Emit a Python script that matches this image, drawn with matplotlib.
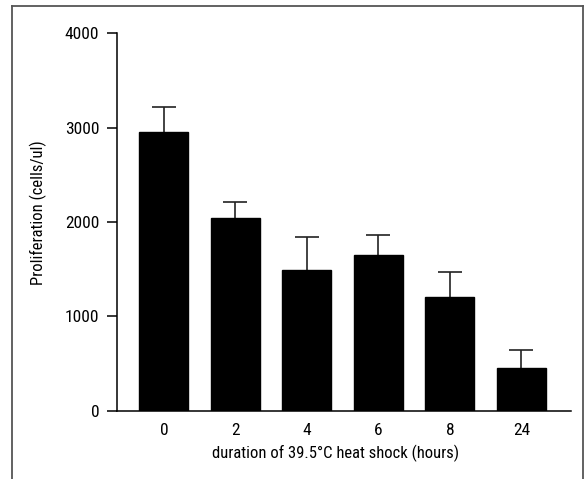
import matplotlib
matplotlib.use("Agg")
import matplotlib.pyplot as plt
from matplotlib.lines import Line2D
from matplotlib import font_manager

categories = ["0", "2", "4", "6", "8", "24"]
means = [2950, 2045, 1495, 1655, 1200, 450]
errors = [265, 165, 350, 210, 270, 195]
yticks = [0, 1000, 2000, 3000, 4000]

names = {f.name for f in font_manager.fontManager.ttflist}
fam = [n for n in ["Liberation Sans Narrow", "Roboto Condensed", "Open Sans Condensed",
                   "DejaVu Sans Condensed"] if n in names]
plt.rcParams['font.family'] = fam + ['DejaVu Sans']
plt.rcParams['font.stretch'] = 'condensed'

fig = plt.figure(figsize=(5.86, 4.79), dpi=100)
ax = fig.add_axes([0.199, 0.1426, 0.775, 0.788])

x = list(range(len(categories)))
ax.bar(x, means, width=0.685, color="black", edgecolor="black", zorder=2)
tops = [m + e for m, e in zip(means, errors)]
ax.vlines(x, means, tops, color="#222222", lw=1.2, zorder=1)
ax.hlines(tops, [xi - 0.168 for xi in x], [xi + 0.168 for xi in x],
          color="#222222", lw=1.2, zorder=1)

ax.set_xlim(-0.66, 5.69)
ax.set_ylim(0, 4000)
ax.set_yticks(yticks)
ax.set_yticklabels([str(v) for v in yticks])
ax.set_xticks(x)
ax.set_xticklabels(categories)

for s in ["top", "right"]:
    ax.spines[s].set_visible(False)
for s in ["left", "bottom"]:
    ax.spines[s].set_linewidth(1.1)

ax.tick_params(axis="y", length=7.5, width=1.1, labelsize=12.5, pad=5)
ax.tick_params(axis="x", length=0, labelsize=12.5, pad=9)

ax.set_ylabel("Proliferation (cells/ul)", fontsize=12)
ax.set_xlabel("duration of 39.5°C heat shock (hours)", fontsize=12)
ax.yaxis.set_label_coords(-0.153, 0.526)
ax.xaxis.set_label_coords(0.482, -0.09)

# outer frame (open at bottom)
fx0, fx1 = 11.5 / 586, 583 / 586
fy1 = 1 - 6 / 479
for xs, ys in [([fx0, fx0], [0, fy1]), ([fx0, fx1], [fy1, fy1]), ([fx1, fx1], [fy1, 0])]:
    fig.add_artist(Line2D(xs, ys, transform=fig.transFigure, color="#555555", lw=1.3))

fig.savefig("out.png", dpi=100)
